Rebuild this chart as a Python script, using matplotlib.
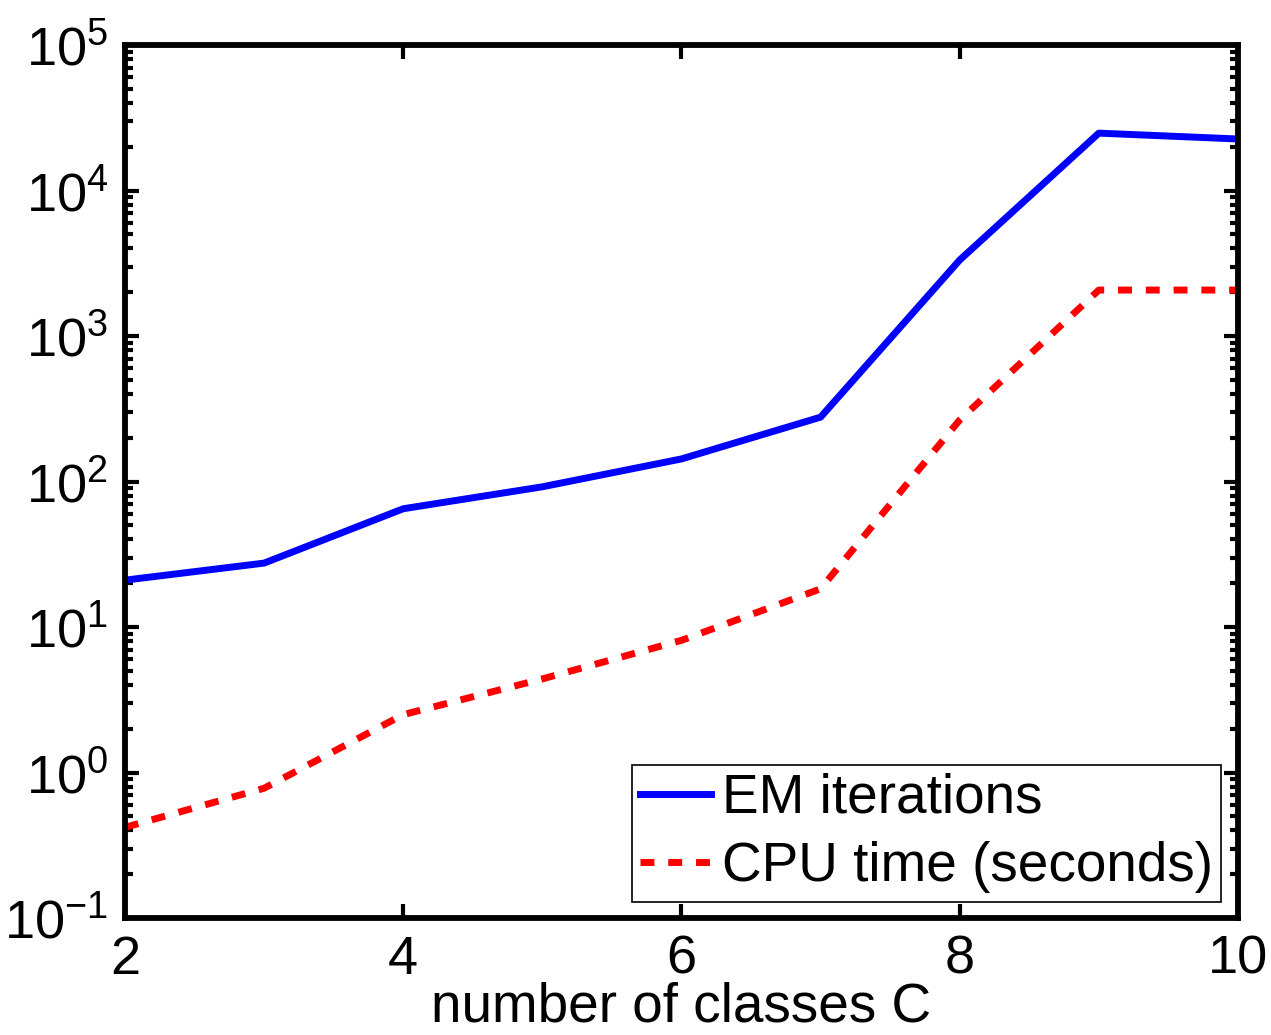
import numpy as np
import matplotlib.pyplot as plt

# number of classes C
classes = [2, 3, 4, 5, 6, 7, 8, 9, 10]
em_iterations = [21, 27.5, 65, 92, 143, 277, 3330, 24800, 22600]
cpu_time = [0.42, 0.78, 2.5, 4.4, 8.1, 18.3, 265, 2070, 2070]
y_ticks = [1e-1, 1e0, 1e1, 1e2, 1e3, 1e4, 1e5]
x_ticks = [2, 4, 6, 8, 10]

plt.rcParams['font.family'] = ['Liberation Sans', 'DejaVu Sans']
plt.rcParams['mathtext.fontset'] = 'custom'
plt.rcParams['mathtext.rm'] = 'Liberation Sans'

fig = plt.figure(figsize=(12.71, 10.35), dpi=100)
ax = fig.add_axes([0.0983, 0.113, 0.8757, 0.8435])

ax.plot(classes, em_iterations, color='#0000ff', lw=5, label='EM iterations')
ax.plot(classes, cpu_time, color='#ff0000', lw=5, dashes=(2, 2), label='CPU time (seconds)')

ax.set_yscale('log')
ax.set_xlim(2, 10)
ax.set_ylim(1e-1, 1e5)
ax.set_xticks(x_ticks)
ax.set_xticklabels([str(t) for t in x_ticks])
ax.set_yticks(y_ticks)
ax.set_yticklabels([r'$10^{%d}$' % int(np.log10(t)) for t in y_ticks])

for s in ax.spines.values():
    s.set_linewidth(4.2)
ax.tick_params(which='both', direction='in', top=True, right=True, labelsize=39, width=3)
ax.tick_params(which='major', length=10, pad=12)
ax.tick_params(which='minor', length=6)

ax.set_xlabel('number of classes C', fontsize=39.5, labelpad=-2)

leg = ax.legend(loc='lower right', fontsize=39.5, fancybox=False, framealpha=1,
                edgecolor='black', handlelength=1.3, handletextpad=0.2,
                borderpad=0.15, labelspacing=0.3, borderaxespad=0.3)
leg.get_frame().set_linewidth(1.2)

fig.savefig('out.png', dpi=100)
